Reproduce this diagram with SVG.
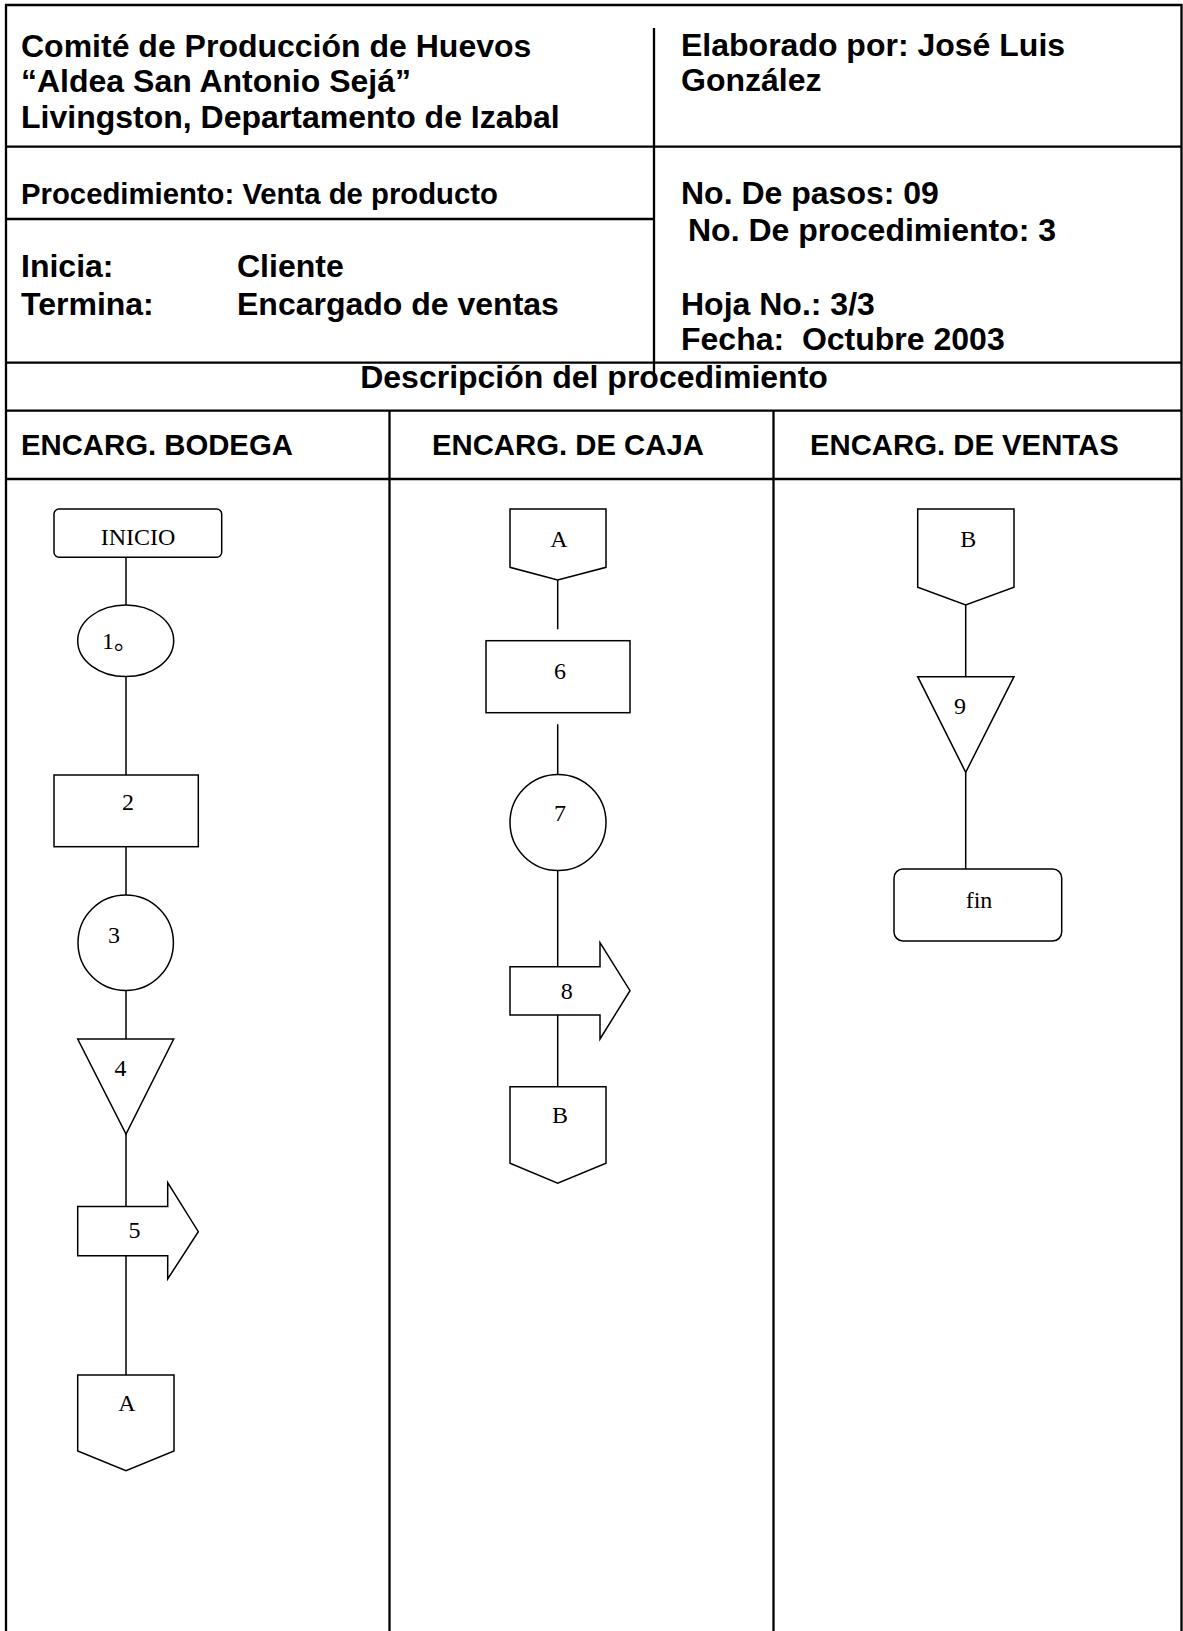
<svg xmlns="http://www.w3.org/2000/svg" width="1183" height="1631" viewBox="0 0 1183 1631">
<style>
.tbl{stroke:#000;stroke-width:2.3;fill:none}
.h{font-family:"Liberation Sans",Arial,sans-serif;font-weight:bold;fill:#000}
.h32{font-size:32px}
.h29{font-size:29.3px}
.shp{stroke:#000;stroke-width:1.5;fill:#fff}
.con{stroke:#000;stroke-width:1.5;fill:none}
.lbl{font-family:"Liberation Serif","Times New Roman","Noto Sans CJK JP",serif;font-size:24px;fill:#000;text-anchor:middle}
</style>
<rect width="1183" height="1631" fill="#fff"/>
<g id="table">
<path class="tbl" d="M6,1631V5H1181.5V1631"/>
<path class="tbl" d="M6,146.7H1181.5M6,219H654M6,362.7H1181.5M6,410.7H1181.5M6,479H1181.5"/>
<path class="tbl" d="M654,28V375M389.5,410.7V1631M773.5,410.7V1631"/>
</g>
<g id="header">
<text class="h h32" x="21" y="56.5">Comité de Producción de Huevos</text>
<text class="h h32" x="21" y="92">“Aldea San Antonio Sejá”</text>
<text class="h h32" x="21" y="127.5">Livingston, Departamento de Izabal</text>
<text class="h h32" x="681" y="55.5">Elaborado por: José Luis</text>
<text class="h h32" x="681" y="91">González</text>
<text class="h h29" x="21" y="203.5">Procedimiento: Venta de producto</text>
<text class="h h32" x="681" y="204">No. De pasos: 09</text>
<text class="h h32" x="688" y="240.5">No. De procedimiento: 3</text>
<text class="h h32" x="21" y="276.5">Inicia:</text>
<text class="h h32" x="237" y="276.5">Cliente</text>
<text class="h h32" x="21" y="314.5">Termina:</text>
<text class="h h32" x="237" y="314.5">Encargado de ventas</text>
<text class="h h32" x="681" y="314.5">Hoja No.: 3/3</text>
<text class="h h32" x="681" y="350" style="white-space:pre">Fecha:  Octubre 2003</text>
<text class="h h32" x="594" y="388" text-anchor="middle">Descripción del procedimiento</text>
<text class="h h29" x="21" y="455">ENCARG. BODEGA</text>
<text class="h h29" x="432" y="455">ENCARG. DE CAJA</text>
<text class="h h29" x="810" y="455">ENCARG. DE VENTAS</text>
</g>
<g id="connectors">
<path class="con" d="M126,557.3V605M126,676.7V775M126,844V895M126,990.4V1039M126,1134V1206.5M126,1255.7V1375"/>
<path class="con" d="M557.7,580V629.3M557.7,724.3V774.3M557.7,870.7V966.7M557.7,1015V1086.7"/>
<path class="con" d="M965.7,605V676.7M965.7,772.3V869"/>
</g>
<g id="n-inicio"><rect class="shp" x="54" y="509" width="167.7" height="48.3" rx="5"/><text class="lbl" x="138" y="545">INICIO</text></g>
<g id="n-1"><ellipse class="shp" cx="125.7" cy="640.8" rx="48" ry="35.8"/><text class="lbl" x="120" y="649" text-anchor="start">1。</text></g>
<g id="n-2"><rect class="shp" x="54" y="775" width="144.3" height="71.7"/><text class="lbl" x="128" y="810">2</text></g>
<g id="n-3"><circle class="shp" cx="125.7" cy="942.7" r="47.7"/><text class="lbl" x="114" y="943">3</text></g>
<g id="n-4"><path class="shp" d="M77.7,1039H173.7L126,1134Z"/><text class="lbl" x="120.5" y="1076">4</text></g>
<g id="n-5"><path class="shp" d="M77.7,1206.5H167.7V1182.6L198.3,1231.7L167.7,1279V1255.7H77.7Z"/><text class="lbl" x="134.5" y="1238">5</text></g>
<g id="n-A1"><path class="shp" d="M77.7,1375H174V1451L126,1470.7L77.7,1451Z"/><text class="lbl" x="127" y="1411">A</text></g>
<g id="n-A2"><path class="shp" d="M510,509H606V567.3L557.7,580L510,567.3Z"/><text class="lbl" x="559" y="546.7">A</text></g>
<g id="n-6"><rect class="shp" x="486" y="640.7" width="144" height="72"/><text class="lbl" x="560" y="679">6</text></g>
<g id="n-7"><circle class="shp" cx="558" cy="822.5" r="48"/><text class="lbl" x="560" y="820.7">7</text></g>
<g id="n-8"><path class="shp" d="M510,966.7H600V942.7L630,990.7L600,1039V1015H510Z"/><text class="lbl" x="566.7" y="999">8</text></g>
<g id="n-B1"><path class="shp" d="M510,1086.7H606V1163.3L557.7,1183.3L510,1163.3Z"/><text class="lbl" x="560" y="1122.7">B</text></g>
<g id="n-B2"><path class="shp" d="M917.7,509H1014V587.3L965.7,605L917.7,587.3Z"/><text class="lbl" x="968.3" y="546.7">B</text></g>
<g id="n-9"><path class="shp" d="M917.7,676.7H1014L965.7,772.3Z"/><text class="lbl" x="960" y="714.3">9</text></g>
<g id="n-fin"><rect class="shp" x="894" y="869" width="167.7" height="72" rx="9"/><text class="lbl" x="979" y="908.3">fin</text></g>
</svg>
